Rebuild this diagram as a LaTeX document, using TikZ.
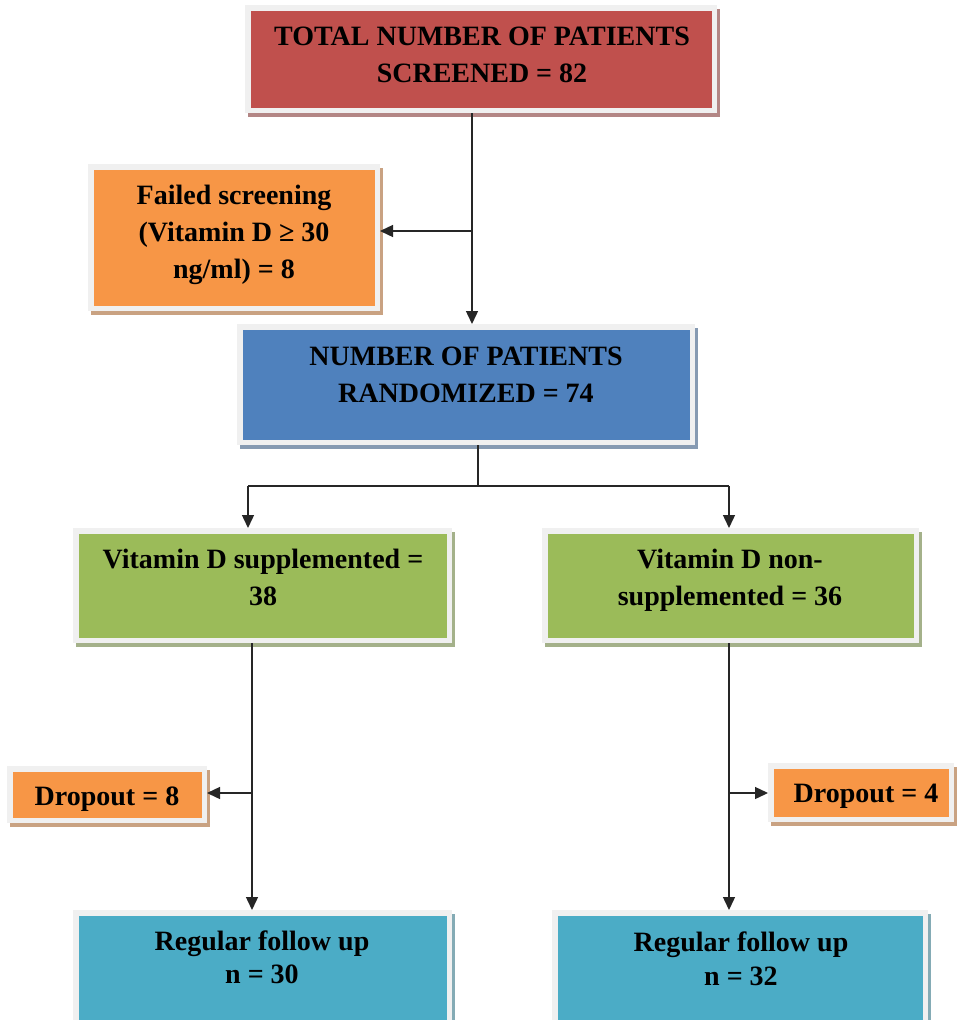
\documentclass[tikz,border=0pt]{standalone}
\usepackage{fontspec}
\setmainfont{Liberation Serif}
\usetikzlibrary{arrows.meta,shadows}
\definecolor{cRed}{HTML}{C0504D}
\definecolor{cOrange}{HTML}{F79646}
\definecolor{cBlue}{HTML}{4F81BD}
\definecolor{cGreen}{HTML}{9BBB59}
\definecolor{cTeal}{HTML}{4BACC6}
\definecolor{cBorder}{HTML}{F0F0F0}
\tikzset{
  fbox/.style={draw=cBorder, line width=5.5pt, fill=#1, rectangle, inner sep=0pt,
    general shadow={fill=#1!50!gray!80!white, draw=#1!50!gray!80!white, line width=5.5pt,
      shadow xshift=3pt, shadow yshift=-3.5pt}},
  txt/.style={align=center, inner sep=0pt, font=\bfseries\fontsize{28}{37}\selectfont},
  conn/.style={draw=black!85, line width=1.4pt},
  arr/.style={conn, -{Triangle[length=13pt,width=12pt]}}
}
\newcommand\flowbox[6]{\node[fbox=#6, minimum width={(#4-#2-5.5)*1pt}, minimum height={(#5-#3-5.5)*1pt}] (#1) at ({(#2+#4)/2},{(#3+#5)/2}) {};}
\begin{document}
\begin{tikzpicture}[x=1pt,y=-1pt]
\useasboundingbox[fill=white] (0,0) rectangle (957,1020);
% boxes
\flowbox{top}{245}{5}{717}{113}{cRed}
\flowbox{fail}{88}{164}{380}{311}{cOrange}
\flowbox{rand}{237}{324}{695}{445}{cBlue}
\flowbox{gL}{73}{528}{452}{643}{cGreen}
\flowbox{gR}{542}{528}{919}{643}{cGreen}
\flowbox{dL}{7}{766}{207}{823}{cOrange}
\flowbox{dR}{768}{763}{954}{822}{cOrange}
\flowbox{rL}{73}{910}{452}{1030}{cTeal}
\flowbox{rR}{552}{910}{928}{1030}{cTeal}
% texts (anchor base = last line baseline)
\node[txt, anchor=base] (tTop) at (482,82) {TOTAL NUMBER OF PATIENTS\\SCREENED = 82};
\node[txt, anchor=base] (tFail) at (234,278) {Failed screening\\(Vitamin D ≥ 30\\ng/ml) = 8};
\node[txt, anchor=base] (tRand) at (466,402) {NUMBER OF PATIENTS\\RANDOMIZED = 74};
\node[txt, anchor=base] (tgL) at (263,605) {Vitamin D supplemented =\\38};
\node[txt, anchor=base] (tgR) at (730,605) {Vitamin D non-\\supplemented = 36};
\node[txt, anchor=base] (tdL) at (107,805) {Dropout = 8};
\node[txt, anchor=base] (tdR) at (866,802) {Dropout = 4};
\node[txt, anchor=base] (trL) at (262,983) {Regular follow up\\[-4pt]n = 30};
\node[txt, anchor=base] (trR) at (741,985) {Regular follow up\\[-3pt]n = 32};
% junctions
\coordinate (j1) at (472,231);
\coordinate (j2) at (478,486);
\coordinate (jL) at (248,486);
\coordinate (jR) at (729,486);
\coordinate (j3) at (252,793);
\coordinate (j4) at (729,793);
% connectors
\draw[arr] (top.south -| j1) -- (j1 |- rand.north);
\draw[arr] (j1) -- (j1 -| fail.east);
\draw[conn] (rand.south -| j2) -- (j2);
\draw[conn] (jL) -- (jR);
\draw[arr] (jL) -- (jL |- gL.north);
\draw[arr] (jR) -- (jR |- gR.north);
\draw[arr] (gL.south -| j3) -- (j3 |- rL.north);
\draw[arr] (j3) -- (j3 -| dL.east);
\draw[arr] (gR.south -| j4) -- (j4 |- rR.north);
\draw[arr] (j4) -- (j4 -| dR.west);
\end{tikzpicture}
\end{document}
